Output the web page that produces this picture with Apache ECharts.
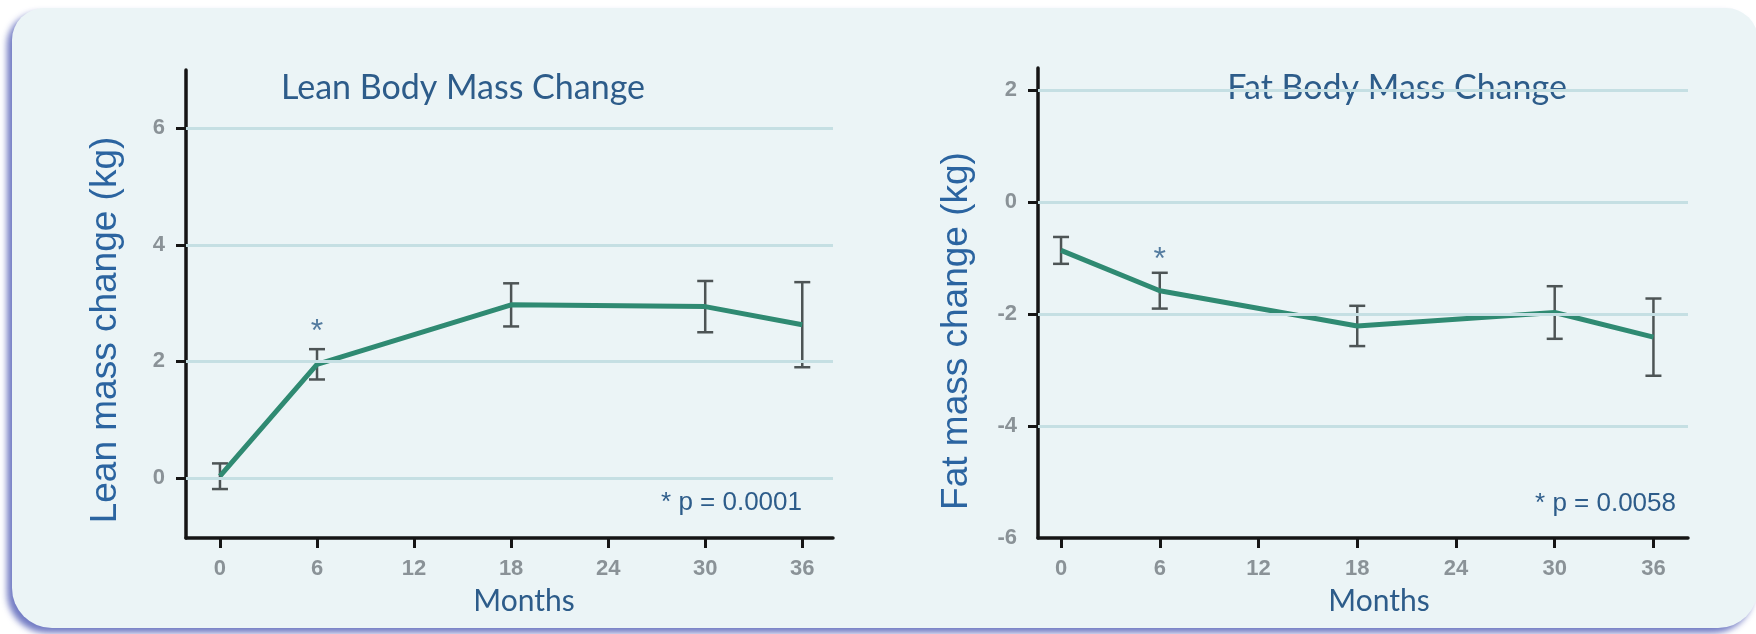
<!DOCTYPE html>
<html><head><meta charset="utf-8">
<script src="https://cdn.jsdelivr.net/npm/echarts@6/dist/echarts.min.js"></script>
<style>html,body{margin:0;padding:0;background:#fff}#c{width:1756px;height:634px}</style>
</head><body><div id="c"></div>
<script>
// ---- data ----
const months = [0, 6, 18, 30, 36];
const monthTicks = [0, 6, 12, 18, 24, 30, 36];
const leanMean = [0.03, 1.95, 2.97, 2.94, 2.63];
const leanErr = [0.22, 0.26, 0.37, 0.44, 0.73];
const fatMean = [-0.86, -1.58, -2.21, -1.97, -2.41];
const fatErr = [0.24, 0.32, 0.36, 0.47, 0.69];
const leanTicks = [0, 2, 4, 6];
const fatTicks = [-4, -2, 0, 2];
const leanLabelRange = [0, 6];
const fatLabelRange = [-6, 2];
const monthLabelRange = [0, 36];
const leanStar = [[6, 2.5]];
const fatStar = [[6, -1.04]];
const leanTitle = 'Lean Body Mass Change';
const fatTitle = 'Fat Body Mass Change';
const leanYName = 'Lean mass change (kg)';
const fatYName = 'Fat mass change (kg)';
const xName = 'Months';
const leanP = '* p = 0.0001';
const fatP = '* p = 0.0058';

// ---- styles ----
const lineColor = '#2f8a72';
const textBlue = '#2d5c8a';
const nameBlue = '#2b64a0';
const tickGray = '#8a9297';
const axisBlack = '#151515';
const gridColor = '#c5dfe3';
const tickFont = {color: tickGray, fontSize: 22, fontWeight: 'bold', fontFamily: 'Liberation Sans'};

// main plot boxes (pixels) and their axis ranges
const L = {left: 186, top: 70, width: 647, height: 468, x: [-2.1, 37.9], y: [-1.03, 7]};
const R = {left: 1038, top: 68, width: 650, height: 470, x: [-1.4, 38.1], y: [-6, 2.4]};

// box covering the labelled tick range, so a plain interval axis puts labels on the ticks
function labelBox(P, xr, yr) {
  const sx = P.width / (P.x[1] - P.x[0]), sy = P.height / (P.y[1] - P.y[0]);
  const left = P.left + (xr[0] - P.x[0]) * sx;
  const right = P.left + (xr[1] - P.x[0]) * sx;
  const top = P.top + (P.y[1] - yr[1]) * sy;
  const bottom = P.top + (P.y[1] - yr[0]) * sy;
  return {left: left, top: top, width: right - left, height: bottom - top,
    xOff: (P.top + P.height) - bottom, yOff: left - P.left};
}
const LB = labelBox(L, monthLabelRange, leanLabelRange);
const RB = labelBox(R, monthLabelRange, fatLabelRange);

function errRender(params, api) {
  const x = api.value(0), lo = api.value(1), hi = api.value(2);
  const top = api.coord([x, hi]), bot = api.coord([x, lo]);
  const w = 8;
  const style = {stroke: '#4d5455', lineWidth: 2.5};
  return {type: 'group', children: [
    {type: 'line', shape: {x1: top[0], y1: top[1], x2: bot[0], y2: bot[1]}, style: style},
    {type: 'line', shape: {x1: top[0] - w, y1: top[1], x2: top[0] + w, y2: top[1]}, style: style},
    {type: 'line', shape: {x1: bot[0] - w, y1: bot[1], x2: bot[0] + w, y2: bot[1]}, style: style}
  ]};
}

function mainX(gi, r) {
  return {type: 'value', gridIndex: gi, min: r[0], max: r[1],
    axisLine: {show: true, onZero: false, lineStyle: {color: axisBlack, width: 3.5}},
    axisTick: {show: true, customValues: monthTicks, length: 10, lineStyle: {color: axisBlack, width: 3}},
    axisLabel: {show: false}, splitLine: {show: false}};
}
function mainY(gi, r, ticks) {
  return {type: 'value', gridIndex: gi, min: r[0], max: r[1],
    axisLine: {show: true, onZero: false, lineStyle: {color: axisBlack, width: 3.5}},
    axisTick: {show: true, customValues: ticks, length: 10, lineStyle: {color: axisBlack, width: 3}},
    axisLabel: {show: false}, splitLine: {show: false}};
}
function labX(gi, box) {
  return {type: 'value', gridIndex: gi, min: monthLabelRange[0], max: monthLabelRange[1], interval: 6,
    position: 'bottom', offset: box.xOff,
    axisLine: {show: false, onZero: false}, axisTick: {show: false}, splitLine: {show: false},
    axisLabel: Object.assign({show: true, margin: 20}, tickFont)};
}
function labY(gi, box, r) {
  return {type: 'value', gridIndex: gi, min: r[0], max: r[1], interval: 2,
    position: 'left', offset: box.yOff,
    axisLine: {show: false, onZero: false}, axisTick: {show: false}, splitLine: {show: false},
    axisLabel: Object.assign({show: true, margin: 21}, tickFont)};
}

function errData(mean, err) {
  return months.map((m, i) => [m, mean[i] - err[i], mean[i] + err[i]]);
}

const chart = echarts.init(document.getElementById('c'), null, {renderer: 'canvas'});
chart.setOption({
  animation: false,
  backgroundColor: '#ffffff',
  grid: [
    {left: L.left, top: L.top, width: L.width, height: L.height},
    {left: R.left, top: R.top, width: R.width, height: R.height},
    {left: LB.left, top: LB.top, width: LB.width, height: LB.height},
    {left: RB.left, top: RB.top, width: RB.width, height: RB.height}
  ],
  xAxis: [mainX(0, L.x), mainX(1, R.x), labX(2, LB), labX(3, RB)],
  yAxis: [mainY(0, L.y, leanTicks), mainY(1, R.y, fatTicks), labY(2, LB, leanLabelRange), labY(3, RB, fatLabelRange)],
  graphic: [
    {type: 'rect', z: -100, silent: true,
      shape: {x: 12, y: 8, width: 1746, height: 620, r: [32, 32, 40, 40]},
      style: {fill: '#ebf4f6', shadowBlur: 6, shadowColor: 'rgba(100,110,190,0.9)', shadowOffsetX: -5, shadowOffsetY: 5}},
    {type: 'text', x: 463, y: 88, style: {text: leanTitle, fill: textBlue, font: '34px Lato', align: 'center', verticalAlign: 'middle'}},
    {type: 'text', x: 1397, y: 88, style: {text: fatTitle, fill: textBlue, font: '34px Lato', align: 'center', verticalAlign: 'middle'}},
    {type: 'text', x: 524, y: 601, style: {text: xName, fill: textBlue, font: '30px Lato', align: 'center', verticalAlign: 'middle'}},
    {type: 'text', x: 1379, y: 601, style: {text: xName, fill: textBlue, font: '30px Lato', align: 'center', verticalAlign: 'middle'}},
    {type: 'text', x: 106, y: 330, rotation: Math.PI / 2, style: {text: leanYName, fill: nameBlue, font: '37px "Liberation Sans"', align: 'center', verticalAlign: 'middle'}},
    {type: 'text', x: 957, y: 331, rotation: Math.PI / 2, style: {text: fatYName, fill: nameBlue, font: '37px "Liberation Sans"', align: 'center', verticalAlign: 'middle'}},
    {type: 'text', x: 802, y: 503, style: {text: leanP, fill: textBlue, font: '26px "Liberation Sans"', align: 'right', verticalAlign: 'middle'}},
    {type: 'text', x: 1676, y: 504, style: {text: fatP, fill: textBlue, font: '26px "Liberation Sans"', align: 'right', verticalAlign: 'middle'}}
  ],
  series: [
    {type: 'line', xAxisIndex: 0, yAxisIndex: 0, data: [], z: 0, silent: true,
      markLine: {silent: true, symbol: 'none', label: {show: false},
        lineStyle: {color: gridColor, width: 3, type: 'solid'},
        data: leanTicks.map(v => ({yAxis: v}))}},
    {type: 'line', xAxisIndex: 1, yAxisIndex: 1, data: [], z: 0, silent: true,
      markLine: {silent: true, symbol: 'none', label: {show: false},
        lineStyle: {color: gridColor, width: 3, type: 'solid'},
        data: fatTicks.map(v => ({yAxis: v}))}},
    {type: 'custom', xAxisIndex: 0, yAxisIndex: 0, renderItem: errRender, data: errData(leanMean, leanErr), z: 2,
      encode: {x: 0, y: [1, 2]}},
    {type: 'custom', xAxisIndex: 1, yAxisIndex: 1, renderItem: errRender, data: errData(fatMean, fatErr), z: 2,
      encode: {x: 0, y: [1, 2]}},
    {type: 'line', xAxisIndex: 0, yAxisIndex: 0, z: 3, showSymbol: false, symbol: 'none',
      data: months.map((m, i) => [m, leanMean[i]]),
      lineStyle: {color: lineColor, width: 5}},
    {type: 'line', xAxisIndex: 1, yAxisIndex: 1, z: 3, showSymbol: false, symbol: 'none',
      data: months.map((m, i) => [m, fatMean[i]]),
      lineStyle: {color: lineColor, width: 5}},
    {type: 'scatter', xAxisIndex: 0, yAxisIndex: 0, symbolSize: 0, data: leanStar, z: 4,
      label: {show: true, position: 'inside', formatter: '*', color: textBlue, fontSize: 32, fontFamily: 'Liberation Sans'}},
    {type: 'scatter', xAxisIndex: 1, yAxisIndex: 1, symbolSize: 0, data: fatStar, z: 4,
      label: {show: true, position: 'inside', formatter: '*', color: textBlue, fontSize: 32, fontFamily: 'Liberation Sans'}}
  ]
});
</script></body></html>
